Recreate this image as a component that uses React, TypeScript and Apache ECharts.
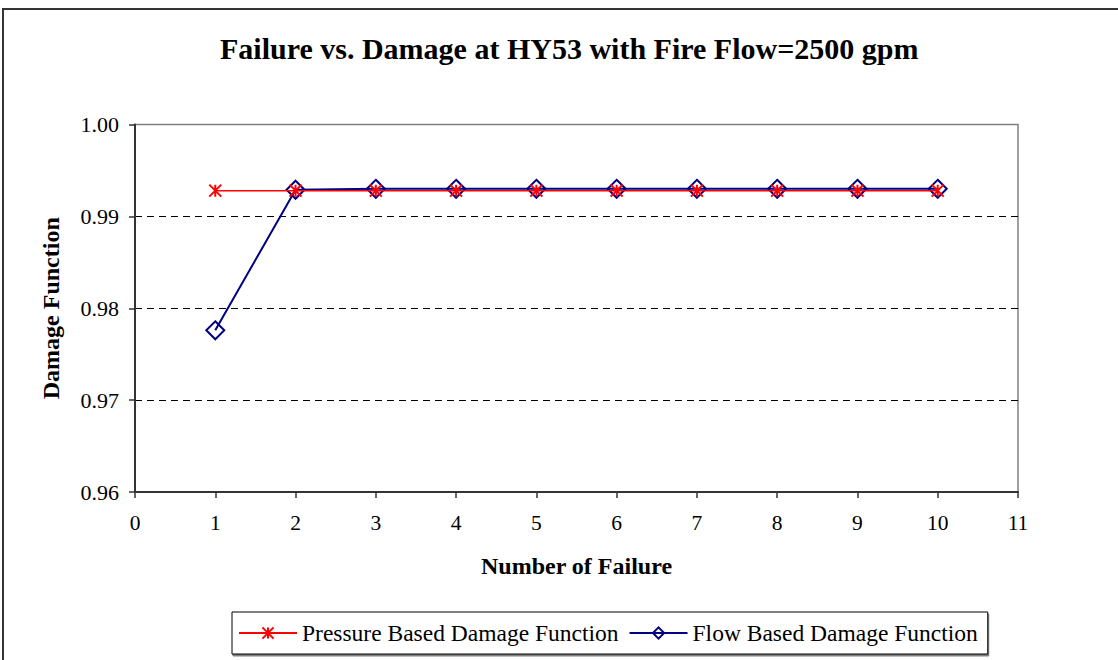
import React, { useEffect, useRef } from "react";
import * as echarts from "echarts";

const failures = [1, 2, 3, 4, 5, 6, 7, 8, 9, 10];
const pressureDamage = [0.9928, 0.9928, 0.9928, 0.9928, 0.9928, 0.9928, 0.9928, 0.9928, 0.9928, 0.9928];
const flowDamage = [0.9776, 0.9929, 0.993, 0.993, 0.993, 0.993, 0.993, 0.993, 0.993, 0.993];
const seriesNames = ["Pressure Based Damage Function", "Flow Based Damage Function"];

const FONT = '"Liberation Serif", "Times New Roman", serif';
const STAR = "path://M5,0L5,10M0,0L10,10M10,0L0,10";

export default function App() {
  const ref = useRef<HTMLDivElement>(null);
  useEffect(() => {
    document.body.style.margin = "0";
    const chart = echarts.init(ref.current!, null, { renderer: "svg" });
    chart.setOption({
      animation: false,
      backgroundColor: "#ffffff",
      textStyle: { fontFamily: FONT, color: "#000" },
      title: {
        text: "Failure vs. Damage at HY53 with Fire Flow=2500 gpm",
        left: 215,
        top: 28,
        textStyle: { fontFamily: FONT, fontSize: 30, fontWeight: "bold", color: "#000" },
      },
      graphic: [
        {
          type: "rect",
          shape: { x: 3, y: 9, width: 1140, height: 700 },
          style: { fill: "none", stroke: "#333", lineWidth: 2 },
          silent: true,
          z: -1,
        },
      ],
      grid: {
        left: 135,
        right: 100,
        top: 124.5,
        bottom: 168,
        show: true,
        borderColor: "#808080",
        borderWidth: 1.5,
        backgroundColor: "transparent",
      },
      legend: {
        left: 232,
        top: 612,
        width: 800,
        data: seriesNames,
        itemWidth: 58,
        itemHeight: 14,
        itemGap: 10,
        padding: [9, 10, 9, 6],
        borderColor: "#000",
        borderWidth: 1,
        shadowColor: "rgba(0,0,0,0.5)",
        shadowOffsetX: 1,
        shadowOffsetY: 2,
        shadowBlur: 0,
        backgroundColor: "#fff",
        textStyle: { fontFamily: FONT, fontSize: 23.5, color: "#000" },
      },
      xAxis: {
        type: "value",
        min: 0,
        max: 11,
        interval: 1,
        name: "Number of Failure",
        nameLocation: "middle",
        nameGap: 62,
        nameTextStyle: { fontFamily: FONT, fontSize: 24, fontWeight: "bold", color: "#000" },
        axisLine: { show: true, onZero: false, lineStyle: { color: "#333", width: 2 } },
        axisTick: { show: true, inside: false, length: 6, lineStyle: { color: "#333", width: 1.5 } },
        axisLabel: { fontFamily: FONT, fontSize: 21.5, color: "#000", margin: 20 },
        splitLine: { show: false },
      },
      yAxis: {
        type: "value",
        min: 0.96,
        max: 1.0,
        interval: 0.01,
        name: "Damage Function",
        nameLocation: "middle",
        nameGap: 72,
        nameTextStyle: { fontFamily: FONT, fontSize: 24, fontWeight: "bold", color: "#000" },
        axisLine: { show: true, lineStyle: { color: "#333", width: 2 } },
        axisTick: { show: true, inside: false, length: 6, lineStyle: { color: "#333", width: 1.5 } },
        axisLabel: {
          fontFamily: FONT,
          fontSize: 22,
          color: "#000",
          margin: 16,
          formatter: (v: number) => v.toFixed(2),
        },
        splitLine: {
          show: true,
          showMinLine: false,
          showMaxLine: false,
          lineStyle: { color: "#000", type: [7, 5], width: 1 },
        },
      },
      series: [
        {
          name: seriesNames[0],
          type: "line",
          data: failures.map((f, i) => [f, pressureDamage[i]]),
          symbol: STAR,
          symbolSize: 12,
          lineStyle: { color: "#ff0000", width: 1.5 },
          itemStyle: { color: "#ff0000", borderColor: "#ff0000", borderWidth: 2 },
          z: 3,
        },
        {
          name: seriesNames[1],
          type: "line",
          data: failures.map((f, i) => [f, flowDamage[i]]),
          symbol: "diamond",
          symbolSize: 18,
          lineStyle: { color: "#000080", width: 2 },
          itemStyle: { color: "rgba(255,255,255,0)", borderColor: "#000080", borderWidth: 2 },
          z: 2,
        },
      ],
    });
    return () => chart.dispose();
  }, []);
  return <div ref={ref} style={{ width: 1118, height: 660 }} />;
}
